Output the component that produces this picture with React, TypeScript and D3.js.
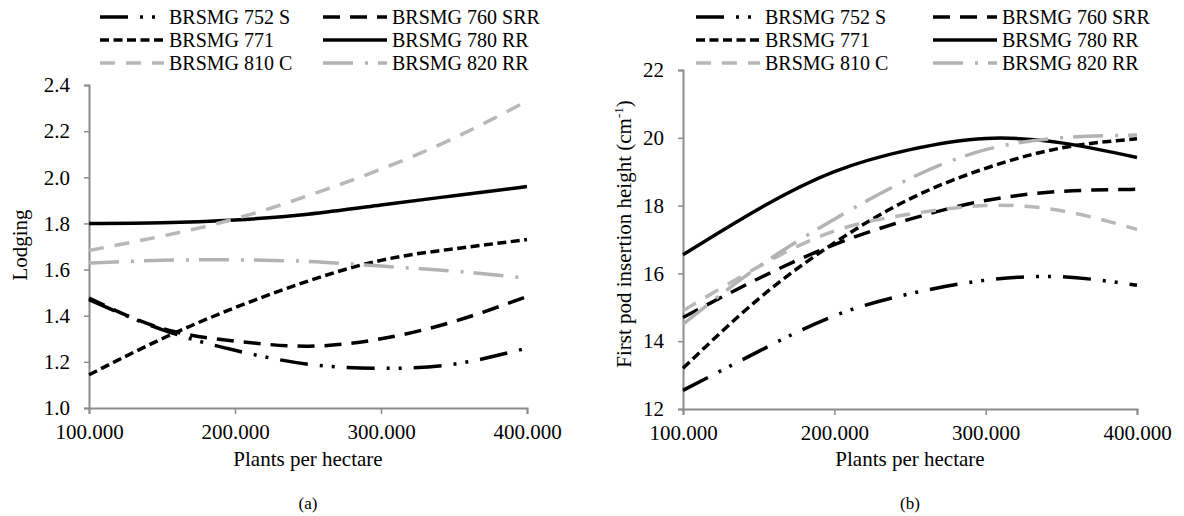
import { useEffect, useRef } from "react";
import * as d3 from "d3";

// plant densities (plants per hectare)
const densities = [100000, 150000, 200000, 250000, 300000, 350000, 400000];
const xTicks = [100000, 200000, 300000, 400000];

const cultivars = ["BRSMG 752 S", "BRSMG 760 SRR", "BRSMG 771", "BRSMG 780 RR", "BRSMG 810 C", "BRSMG 820 RR"];

// (a) lodging
const lodging752 = [1.47, 1.34, 1.25, 1.19, 1.172, 1.19, 1.26];
const lodging760 = [1.476, 1.345, 1.29, 1.268, 1.3, 1.375, 1.483];
const lodging771 = [1.144, 1.3, 1.435, 1.55, 1.64, 1.69, 1.73];
const lodging780 = [1.8, 1.803, 1.815, 1.84, 1.88, 1.92, 1.96];
const lodging810 = [1.683, 1.745, 1.82, 1.92, 2.035, 2.17, 2.33];
const lodging820 = [1.628, 1.64, 1.642, 1.635, 1.615, 1.593, 1.563];
const lodgingTicks = [1.0, 1.2, 1.4, 1.6, 1.8, 2.0, 2.2, 2.4];

// (b) first pod insertion height
const pod752 = [12.55, 13.7, 14.75, 15.4, 15.8, 15.9, 15.65];
const pod760 = [14.7, 15.85, 16.85, 17.6, 18.15, 18.42, 18.48];
const pod771 = [13.2, 15.25, 16.9, 18.2, 19.1, 19.7, 19.97];
const pod780 = [16.55, 17.9, 19.0, 19.65, 19.98, 19.85, 19.42];
const pod810 = [14.9, 16.2, 17.25, 17.75, 18.0, 17.85, 17.3];
const pod820 = [14.5, 16.2, 17.6, 18.8, 19.65, 20.0, 20.08];
const podTicks = [12, 14, 16, 18, 20, 22];

const lineStyle: Record<string, { color: string; dash: string }> = {
  "BRSMG 752 S": { color: "#000", dash: "28 12 3 9 3 12" },
  "BRSMG 760 SRR": { color: "#000", dash: "17 10" },
  "BRSMG 771": { color: "#000", dash: "9 4.5" },
  "BRSMG 780 RR": { color: "#000", dash: "none" },
  "BRSMG 810 C": { color: "#b8b8b8", dash: "15 11" },
  "BRSMG 820 RR": { color: "#b3b3b3", dash: "30 12 3 10" },
};

const FONT = "'Liberation Serif', 'Times New Roman', serif";
const W = 1184;
const H = 516;

const ptBr = d3.formatLocale({ decimal: ",", thousands: ".", grouping: [3], currency: ["", ""] });

function drawPanel(svg: any, opt: any) {
  const g = svg.append("g");
  const x = d3.scaleLinear().domain([100000, 400000]).range([opt.left, opt.right]);
  const y = d3.scaleLinear().domain(opt.yDomain).range([opt.bottom, opt.top]);

  // axes
  const xAxis = g
    .append("g")
    .attr("transform", `translate(0,${opt.bottom})`)
    .call(d3.axisBottom(x).tickValues(xTicks).tickSize(6).tickPadding(10).tickFormat(ptBr.format(",")));
  const yAxis = g
    .append("g")
    .attr("transform", `translate(${opt.left},0)`)
    .call(d3.axisLeft(y).tickValues(opt.yTicks).tickSize(5).tickPadding(14).tickFormat(d3.format(opt.yFmt)));
  [xAxis, yAxis].forEach((a) => {
    a.selectAll(".domain").attr("stroke", "#8c8c8c").attr("stroke-width", 2);
    a.selectAll(".tick line").attr("stroke", "#8c8c8c").attr("stroke-width", 1.5);
    a.selectAll("text").attr("font-family", FONT).attr("font-size", 21).attr("fill", "#000");
  });

  // curves
  const line = d3
    .line<number>()
    .x((_, i) => x(densities[i]))
    .y((d) => y(d))
    .curve(d3.curveNatural);
  cultivars.forEach((c, i) => {
    const s = lineStyle[c];
    g.append("path")
      .attr("d", line(opt.series[i]))
      .attr("fill", "none")
      .attr("stroke", s.color)
      .attr("stroke-width", 3.5)
      .attr("stroke-dasharray", s.dash);
  });

  // legend
  cultivars.forEach((c, i) => {
    const col = i % 2;
    const row = Math.floor(i / 2);
    const x0 = opt.legendX[col];
    const ly = 17 + row * 23;
    const s = lineStyle[c];
    g.append("line")
      .attr("x1", x0)
      .attr("x2", x0 + 64)
      .attr("y1", ly)
      .attr("y2", ly)
      .attr("stroke", s.color)
      .attr("stroke-width", 3.5)
      .attr("stroke-dasharray", s.dash);
    g.append("text")
      .attr("x", x0 + 69)
      .attr("y", ly + 7)
      .attr("font-family", FONT)
      .attr("font-size", 20)
      .text(c);
  });

  // titles
  const cx = (opt.left + opt.right) / 2;
  g.append("text")
    .attr("x", cx)
    .attr("y", 466)
    .attr("text-anchor", "middle")
    .attr("font-family", FONT)
    .attr("font-size", 21)
    .text("Plants per hectare");
  g.append("text")
    .attr("x", cx)
    .attr("y", 509)
    .attr("text-anchor", "middle")
    .attr("font-family", FONT)
    .attr("font-size", 17)
    .text(opt.tag);

  const yt = g
    .append("text")
    .attr("transform", `translate(${opt.yTitleX},${opt.yTitleY}) rotate(-90)`)
    .attr("text-anchor", "middle")
    .attr("font-family", FONT)
    .attr("font-size", 21);
  yt.append("tspan").text(opt.yTitle);
  if (opt.yTitleSup) {
    yt.append("tspan").attr("font-size", 13).attr("dy", -8).text(opt.yTitleSup);
    yt.append("tspan").attr("dy", 8).text(")");
  }
}

const App = () => {
  const ref = useRef<SVGSVGElement>(null);

  useEffect(() => {
    const svg = d3.select(ref.current);
    svg.selectAll("*").remove();
    svg.append("rect").attr("width", W).attr("height", H).attr("fill", "#fff");

    drawPanel(svg, {
      left: 89,
      right: 527,
      top: 85,
      bottom: 408,
      yDomain: [1.0, 2.4],
      yTicks: lodgingTicks,
      yFmt: ".1f",
      series: [lodging752, lodging760, lodging771, lodging780, lodging810, lodging820],
      legendX: [100, 323],
      tag: "(a)",
      yTitle: "Lodging",
      yTitleX: 27,
      yTitleY: 245,
    });

    drawPanel(svg, {
      left: 683,
      right: 1137,
      top: 70,
      bottom: 409,
      yDomain: [12, 22],
      yTicks: podTicks,
      yFmt: "d",
      series: [pod752, pod760, pod771, pod780, pod810, pod820],
      legendX: [696, 933],
      tag: "(b)",
      yTitle: "First pod insertion height (cm",
      yTitleSup: "-1",
      yTitleX: 631,
      yTitleY: 234,
    });
  }, []);

  return (
    <svg
      ref={ref}
      width={W}
      height={H}
      style={{ position: "absolute", left: 0, top: 0, background: "#fff" }}
    ></svg>
  );
};

export default App;
